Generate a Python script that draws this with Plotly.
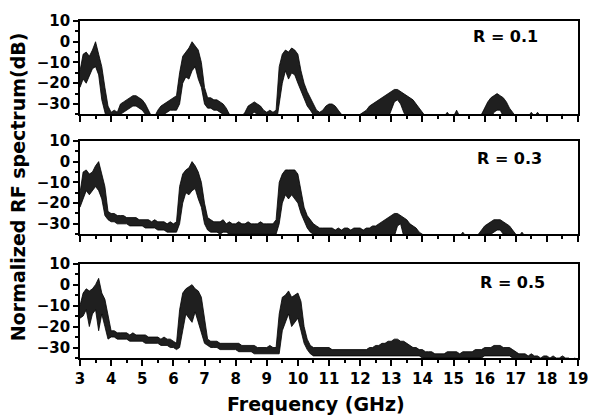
import plotly.graph_objects as go

# Frequency grid (GHz)
FREQ = [
    3.0, 3.1, 3.2, 3.3, 3.4, 3.5, 3.6, 3.7, 3.8, 3.9,
    4.0, 4.1, 4.2, 4.3, 4.4, 4.5, 4.6, 4.7, 4.8, 4.9,
    5.0, 5.1, 5.2, 5.3, 5.4, 5.5, 5.6, 5.7, 5.8, 5.9,
    6.0, 6.1, 6.2, 6.3, 6.4, 6.5, 6.6, 6.7, 6.8, 6.9,
    7.0, 7.1, 7.2, 7.3, 7.4, 7.5, 7.6, 7.7, 7.8, 7.9,
    8.0, 8.1, 8.2, 8.3, 8.4, 8.5, 8.6, 8.7, 8.8, 8.9,
    9.0, 9.1, 9.2, 9.3, 9.4, 9.5, 9.6, 9.7, 9.8, 9.9,
    10.0, 10.1, 10.2, 10.3, 10.4, 10.5, 10.6, 10.7, 10.8, 10.9,
    11.0, 11.1, 11.2, 11.3, 11.4, 11.5, 11.6, 11.7, 11.8, 11.9,
    12.0, 12.1, 12.2, 12.3, 12.4, 12.5, 12.6, 12.7, 12.8, 12.9,
    13.0, 13.1, 13.2, 13.3, 13.4, 13.5, 13.6, 13.7, 13.8, 13.9,
    14.0, 14.1, 14.2, 14.3, 14.4, 14.5, 14.6, 14.7, 14.8, 14.9,
    15.0, 15.1, 15.2, 15.3, 15.4, 15.5, 15.6, 15.7, 15.8, 15.9,
    16.0, 16.1, 16.2, 16.3, 16.4, 16.5, 16.6, 16.7, 16.8, 16.9,
    17.0, 17.1, 17.2, 17.3, 17.4, 17.5, 17.6, 17.7, 17.8, 17.9,
    18.0, 18.1, 18.2, 18.3, 18.4, 18.5, 18.6, 18.7, 18.8, 18.9,
    19.0,
]

# R = 0.1 : upper / lower envelope of the spectrum (dB)
R01_HI = [
    -14, -6, -5, -7, -4, 0, -6, -12, -22, -31,
    -34, -33, -34, -30, -29, -28, -27, -26, -26, -27,
    -28, -30, -33, -36, -36, -33, -31, -30, -29, -28,
    -27, -26, -15, -7, -5, -3, 0, -2, -4, -10,
    -22, -27, -27, -28, -28, -29, -30, -32, -35, -36,
    -36, -36, -36, -34, -31, -30, -29, -30, -31, -33,
    -34, -33, -34, -33, -12, -6, -4, -5, -3, -4,
    -6, -14, -20, -24, -27, -30, -33, -34, -33, -31,
    -30, -30, -31, -33, -35, -36, -36, -36, -36, -36,
    -35, -34, -33, -31, -30, -29, -28, -27, -26, -25,
    -24, -23, -23, -24, -25, -26, -27, -28, -30, -32,
    -34, -36, -36, -36, -36, -36, -36, -36, -34, -36,
    -36, -33, -36, -36, -36, -36, -36, -36, -36, -35,
    -32, -29, -27, -26, -25, -26, -27, -29, -32, -34,
    -36, -36, -36, -36, -36, -34, -36, -34, -36, -36,
    -36, -36, -36, -36, -36, -35, -36, -36, -36, -36,
    -36,
]
R01_LO = [
    -22, -18, -20, -16, -13, -12, -16, -28, -33, -40,
    -40, -40, -40, -35, -34, -33, -32, -31, -31, -32,
    -33, -35, -40, -40, -40, -40, -36, -35, -34, -33,
    -33, -33, -30, -20, -17, -18, -14, -12, -18, -22,
    -30, -32, -32, -33, -33, -34, -35, -36, -40, -40,
    -40, -40, -40, -40, -36, -35, -34, -35, -36, -37,
    -40, -40, -40, -40, -30, -20, -14, -18, -15, -16,
    -20, -24, -28, -31, -33, -35, -37, -40, -40, -36,
    -35, -35, -36, -37, -40, -40, -40, -40, -40, -40,
    -40, -40, -37, -37, -37, -37, -37, -37, -36, -37,
    -33, -29, -28, -30, -34, -37, -37, -37, -37, -37,
    -40, -40, -40, -40, -40, -40, -40, -40, -40, -40,
    -40, -40, -40, -40, -40, -40, -40, -40, -40, -40,
    -37, -37, -37, -34, -33, -33, -36, -37, -37, -40,
    -40, -40, -40, -40, -40, -40, -40, -40, -40, -40,
    -40, -40, -40, -40, -40, -40, -40, -40, -40, -40,
    -40,
]

# R = 0.3
R03_HI = [
    -15, -5, -4, -6, -5, -2, 0, -6, -12, -24,
    -25, -25, -26, -26, -26, -27, -27, -27, -27, -28,
    -28, -28, -28, -29, -28, -29, -29, -29, -30, -29,
    -30, -29, -12, -6, -4, -3, 0, -2, -5, -10,
    -20, -27, -28, -29, -29, -29, -28, -30, -29, -30,
    -30, -29, -30, -30, -29, -30, -30, -30, -29, -30,
    -30, -30, -30, -28, -10, -6, -4, -4, -4, -4,
    -6, -14, -22, -26, -28, -30, -31, -32, -32, -32,
    -32, -32, -33, -32, -33, -32, -32, -33, -32, -32,
    -32, -33, -32, -32, -31, -31, -30, -29, -28, -27,
    -26, -25, -25, -26, -27, -28, -30, -31, -32, -34,
    -35, -36, -36, -36, -36, -36, -36, -36, -36, -36,
    -36, -36, -36, -34, -36, -36, -36, -36, -35, -33,
    -31, -30, -29, -28, -28, -28, -29, -30, -31, -33,
    -35, -36, -34, -36, -36, -36, -36, -36, -36, -36,
    -36, -36, -36, -36, -36, -36, -36, -36, -36, -36,
    -36,
]
R03_LO = [
    -22, -18, -14, -16, -14, -12, -14, -18, -26, -28,
    -29, -29, -30, -30, -30, -30, -31, -31, -31, -31,
    -31, -32, -32, -32, -32, -33, -33, -33, -34, -34,
    -34, -34, -30, -20, -15, -16, -14, -13, -18, -22,
    -30, -33, -34, -34, -34, -35, -34, -34, -35, -35,
    -35, -35, -35, -35, -35, -35, -35, -35, -35, -35,
    -35, -35, -35, -35, -30, -20, -16, -18, -16, -18,
    -20, -25, -29, -32, -34, -35, -35, -36, -36, -36,
    -36, -36, -36, -36, -36, -36, -36, -36, -36, -36,
    -36, -36, -36, -36, -36, -36, -36, -36, -36, -36,
    -36, -36, -31, -30, -36, -36, -36, -36, -36, -40,
    -40, -40, -40, -40, -40, -40, -40, -40, -40, -40,
    -40, -40, -40, -40, -40, -40, -40, -40, -40, -37,
    -35, -35, -35, -34, -33, -33, -35, -35, -36, -37,
    -40, -40, -40, -40, -40, -40, -40, -40, -40, -40,
    -40, -40, -40, -40, -40, -40, -40, -40, -40, -40,
    -40,
]

# R = 0.5
R05_HI = [
    -10, -4, -2, -3, -2, 0, 3, -4, -7, -14,
    -22, -22, -23, -23, -23, -23, -24, -23, -24, -24,
    -24, -24, -25, -25, -25, -25, -26, -25, -26, -26,
    -27, -28, -12, -4, -2, -1, 0, -2, -3, -6,
    -16, -26, -27, -27, -27, -28, -28, -28, -28, -28,
    -28, -28, -29, -29, -29, -29, -29, -30, -30, -30,
    -30, -29, -30, -30, -14, -6, -5, -3, -6, -5,
    -4, -8, -20, -26, -29, -30, -30, -30, -30, -30,
    -30, -31, -31, -31, -31, -31, -31, -31, -31, -31,
    -31, -31, -31, -30, -30, -29, -29, -28, -28, -27,
    -27, -26, -26, -27, -27, -28, -29, -30, -30, -31,
    -31, -32, -32, -32, -33, -33, -33, -33, -32, -32,
    -32, -32, -33, -32, -32, -32, -32, -31, -31, -31,
    -30, -30, -30, -29, -29, -29, -30, -30, -30, -31,
    -32, -33, -33, -33, -34, -33, -34, -34, -35, -34,
    -34, -35, -34, -35, -35, -34, -35, -35, -36, -35,
    -36,
]
R05_LO = [
    -16, -15, -12, -20, -14, -12, -22, -14, -20, -26,
    -25, -25, -26, -26, -26, -26, -27, -27, -27, -27,
    -27, -28, -28, -28, -28, -28, -29, -29, -29, -30,
    -30, -31, -30, -22, -14, -16, -18, -13, -18, -22,
    -28, -29, -30, -30, -30, -31, -31, -31, -31, -31,
    -31, -32, -32, -32, -32, -32, -33, -33, -33, -33,
    -33, -33, -33, -33, -33, -22, -18, -14, -20, -18,
    -16, -22, -28, -31, -33, -34, -34, -34, -34, -34,
    -34, -34, -34, -34, -34, -34, -34, -34, -34, -34,
    -34, -34, -34, -34, -34, -34, -34, -34, -34, -34,
    -34, -34, -34, -34, -34, -34, -34, -34, -34, -34,
    -35, -35, -35, -35, -35, -35, -35, -35, -35, -35,
    -35, -35, -35, -35, -35, -35, -35, -35, -35, -35,
    -34, -34, -34, -34, -34, -34, -34, -34, -34, -35,
    -36, -36, -36, -36, -37, -36, -37, -37, -40, -37,
    -37, -40, -37, -40, -40, -37, -40, -40, -40, -40,
    -40,
]

PANEL_LABELS = ["R = 0.1", "R = 0.3", "R = 0.5"]
LABEL_X = [16.66, 16.79, 16.91]
LABEL_Y = [2.4, 1.4, 0.9]
X_TICKS = [3, 4, 5, 6, 7, 8, 9, 10, 11, 12, 13, 14, 15, 16, 17, 18, 19]
Y_TICKS = [-30, -20, -10, 0, 10]
Y_MINOR = [-35, -25, -15, -5, 5]

panels = [(R01_HI, R01_LO), (R03_HI, R03_LO), (R05_HI, R05_LO)]
domains = [[0.7230, 1.0], [0.3673, 0.6443], [0.0, 0.2799]]

FONT = "DejaVu Sans"
fig = go.Figure()
for i, (hi, lo) in enumerate(panels):
    xa = "x" if i == 0 else f"x{i+1}"
    ya = "y" if i == 0 else f"y{i+1}"
    fig.add_trace(go.Scatter(x=FREQ, y=hi, mode="lines", xaxis=xa, yaxis=ya,
                             line=dict(color="black", width=0.8), showlegend=False))
    fig.add_trace(go.Scatter(x=FREQ, y=lo, mode="lines", xaxis=xa, yaxis=ya,
                             fill="tonexty", fillcolor="rgba(0,0,0,0.88)",
                             line=dict(color="black", width=0.8), showlegend=False))
    fig.add_annotation(x=LABEL_X[i], y=LABEL_Y[i], xref=xa, yref=ya,
                       xanchor="center", yanchor="middle",
                       text=PANEL_LABELS[i], showarrow=False,
                       font=dict(family=FONT, size=16, color="black", weight="bold"))

axis_common = dict(showgrid=False, zeroline=False, linecolor="black", linewidth=1.6,
                   mirror=True, ticks="outside", tickcolor="black", tickwidth=1.5)
for i in range(3):
    xkey = "xaxis" if i == 0 else f"xaxis{i+1}"
    ykey = "yaxis" if i == 0 else f"yaxis{i+1}"
    ya = "y" if i == 0 else f"y{i+1}"
    xa = "x" if i == 0 else f"x{i+1}"
    fig.update_layout(**{
        xkey: dict(axis_common, range=[3, 19], domain=[0, 1], anchor=ya,
                   tickvals=X_TICKS, ticklen=6, showticklabels=(i == 2),
                   tickfont=dict(family=FONT, size=15, color="black", weight="bold"),
                   minor=dict(dtick=0.5, tick0=3, ticks="outside", ticklen=3,
                              tickwidth=1.5, tickcolor="black")),
        ykey: dict(axis_common, range=[-35, 10], domain=domains[i], anchor=xa,
                   tickvals=Y_TICKS, ticklen=5,
                   tickfont=dict(family=FONT, size=15, color="black", weight="bold"),
                   minor=dict(tickvals=Y_MINOR, ticks="outside", ticklen=3,
                              tickwidth=1.5, tickcolor="black")),
    })

fig.add_annotation(x=-0.1245, y=0.51, xref="paper", yref="paper",
                   xanchor="center", yanchor="middle",
                   text="Normalized RF spectrum(dB)", textangle=-90, showarrow=False,
                   font=dict(family=FONT, size=19, color="black", weight="bold"))
fig.add_annotation(x=0.474, y=-0.137, xref="paper", yref="paper",
                   xanchor="center", yanchor="middle",
                   text="Frequency (GHz)", showarrow=False,
                   font=dict(family=FONT, size=19, color="black", weight="bold"))

fig.update_layout(width=600, height=418, margin=dict(l=80, r=14, t=15, b=60),
                  paper_bgcolor="white", plot_bgcolor="white")
fig.write_html("out.html")
